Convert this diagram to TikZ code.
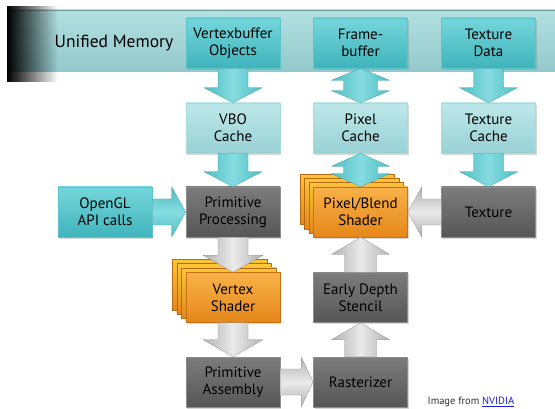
\documentclass[tikz,border=0pt]{standalone}
\usepackage{fontspec}
\setmainfont{PT Sans}
\usetikzlibrary{calc,fadings,shadows,backgrounds}
\definecolor{tealA}{HTML}{74D6DB}
\definecolor{tealB}{HTML}{40B4BB}
\definecolor{tealE}{HTML}{5CC4CA}
\definecolor{lightA}{HTML}{BEE8E9}
\definecolor{lightB}{HTML}{98D1D4}
\definecolor{lightE}{HTML}{A9DADC}
\definecolor{grayA}{HTML}{7C7C7C}
\definecolor{grayB}{HTML}{565656}
\definecolor{grayE}{HTML}{8C8C8C}
\definecolor{orA}{HTML}{F8B248}
\definecolor{orB}{HTML}{E5871A}
\definecolor{orE}{HTML}{B86A12}
\definecolor{bandA}{HTML}{B2E0E1}
\definecolor{bandB}{HTML}{93C9CB}
\definecolor{arrT}{HTML}{86DCE0}
\definecolor{arrTe}{HTML}{4DBEC5}
\definecolor{arrG}{HTML}{EAEAEA}
\definecolor{arrGe}{HTML}{B2B2B2}
\definecolor{linkblue}{HTML}{1A1AE0}
\newcommand\ArrV[6]{%
  \path[#1] let \p1=(#2), \p2=(#3), \n1={sign(\y2-\y1)} in
  ({\x1-#4},{\y1}) -- ({\x1-#4},{\y2-(\n1)*#6}) -- ({\x1-#5},{\y2-(\n1)*#6}) --
  ({\x1},{\y2}) -- ({\x1+#5},{\y2-(\n1)*#6}) -- ({\x1+#4},{\y2-(\n1)*#6}) --
  ({\x1+#4},{\y1}) -- cycle;}
\newcommand\ArrVV[6]{%
  \path[#1] let \p1=(#2), \p2=(#3), \n1={sign(\y2-\y1)} in
  ({\x1},{\y1}) -- ({\x1+#5},{\y1+(\n1)*#6}) -- ({\x1+#4},{\y1+(\n1)*#6}) --
  ({\x1+#4},{\y2-(\n1)*#6}) -- ({\x1+#5},{\y2-(\n1)*#6}) -- ({\x1},{\y2}) --
  ({\x1-#5},{\y2-(\n1)*#6}) -- ({\x1-#4},{\y2-(\n1)*#6}) --
  ({\x1-#4},{\y1+(\n1)*#6}) -- ({\x1-#5},{\y1+(\n1)*#6}) -- cycle;}
\newcommand\ArrH[6]{%
  \path[#1] let \p1=(#2), \p2=(#3), \n1={sign(\x2-\x1)} in
  ({\x1},{\y1-#4}) -- ({\x2-(\n1)*#6},{\y1-#4}) -- ({\x2-(\n1)*#6},{\y1-#5}) --
  ({\x2},{\y1}) -- ({\x2-(\n1)*#6},{\y1+#5}) -- ({\x2-(\n1)*#6},{\y1+#4}) --
  ({\x1},{\y1+#4}) -- cycle;}
\tikzset{
  box/.style={rectangle, minimum width=94pt, minimum height=50pt, inner sep=0pt,
    align=center, font=\fontsize{15}{16.8}\selectfont, text=black,
    line width=0.6pt,
    drop shadow={shadow xshift=1.2pt, shadow yshift=-1.6pt, opacity=0.3}},
  tealbox/.style={box, top color=tealA, bottom color=tealB, draw=tealE},
  lightbox/.style={box, top color=lightA, bottom color=lightB, draw=lightE},
  graybox/.style={box, top color=grayA, bottom color=grayB, draw=grayE},
  orbox/.style={box, top color=orA, bottom color=orB, draw=orE!70!orB},
  layerbox/.style={top color=orA!75!yellow, bottom color=orB, draw=orE, line width=0.6pt},
  tarrV/.style={left color=arrTe, right color=arrTe, middle color=arrT, draw=arrTe!85!black, line width=0.3pt},
  tarrH/.style={top color=arrTe, bottom color=arrTe, middle color=arrT, draw=arrTe!85!black, line width=0.3pt},
  garrV/.style={left color=arrGe, right color=arrGe, middle color=arrG, draw=arrGe!85!black, line width=0.3pt},
  garrH/.style={top color=arrGe, bottom color=arrGe, middle color=arrG, draw=arrGe!85!black, line width=0.3pt},
}
\begin{document}
\begin{tikzpicture}[x=1pt, y=-1pt]
\useasboundingbox (0,0) rectangle (555,409);
% memory band
\fill[top color=bandA, bottom color=bandB] (7,10) rectangle (555,72);
\draw[bandB!80!black, line width=0.5pt] (7,10.3) -- (555,10.3);
\fill[black, path fading=east] (7,6) rectangle (58,82);
\node[font=\fontsize{17.5}{20}\selectfont, text=black] (um) at (114,43) {Unified Memory};
% nodes
\node[tealbox]  (vbo)    at (233,43)    {Vertexbuffer\\Objects};
\node[tealbox]  (fb)     at (360.5,43)  {Frame-\\buffer};
\node[tealbox]  (tdata)  at (488.5,43)  {Texture\\Data};
\node[lightbox] (vcache) at (233,128)   {VBO\\Cache};
\node[lightbox] (pcache) at (360.5,128) {Pixel\\Cache};
\node[lightbox] (tcache) at (488.5,128) {Texture\\Cache};
\node[tealbox]  (opengl) at (105,212)   {OpenGL\\API calls};
\node[graybox]  (pproc)  at (233,212)   {Primitive\\Processing};
\node[orbox]    (pblend) at (360.5,212) {Pixel/Blend\\Shader};
\node[graybox]  (tex)    at (488.5,212) {Texture};
\node[orbox]    (vshad)  at (233,297.5) {Vertex\\Shader};
\node[graybox]  (early)  at (360.5,297.5) {Early Depth\\Stencil};
\node[graybox]  (pasm)   at (233,382)   {Primitive\\Assembly};
\node[graybox]  (rast)   at (360.5,382) {Rasterizer};
% stacked copies behind the shaders
\begin{scope}[on background layer]
\fill[white] (0,0) rectangle (555,409);
\foreach \k in {3,2,1} {
  \draw[layerbox] ($(pblend.north west)+(-4.4*\k,-4.2*\k)$) rectangle ($(pblend.south east)+(-4.4*\k,-4.2*\k)$);
  \draw[layerbox] ($(vshad.north west)+(-4.4*\k,-4.2*\k)$) rectangle ($(vshad.south east)+(-4.4*\k,-4.2*\k)$);
}
\end{scope}
% teal arrows
\ArrV{tarrV}{vbo.south}{vcache.north}{15pt}{29pt}{15pt}
\ArrVV{tarrV}{fb.south}{pcache.north}{17pt}{29pt}{12pt}
\ArrV{tarrV}{tdata.south}{tcache.north}{15pt}{29pt}{15pt}
\ArrV{tarrV}{vcache.south}{pproc.north}{15pt}{29pt}{15pt}
\ArrVV{tarrV}{pcache.south}{pblend.north}{17pt}{29pt}{13pt}
\ArrV{tarrV}{tcache.south}{tex.north}{15pt}{29pt}{15pt}
\ArrH{tarrH}{opengl.east}{pproc.west}{13pt}{25pt}{14pt}
% gray arrows
\ArrV{garrV}{pproc.south}{vshad.north}{15pt}{30pt}{17pt}
\ArrV{garrV}{vshad.south}{pasm.north}{15pt}{30pt}{17pt}
\ArrH{garrH}{pasm.east}{rast.west}{13pt}{25pt}{12pt}
\ArrV{garrV}{rast.north}{early.south}{16pt}{29pt}{17pt}
\ArrV{garrV}{early.north}{pblend.south}{16pt}{29pt}{17pt}
\ArrH{garrH}{tex.west}{pblend.east}{13pt}{25pt}{14pt}
% credit
\node[font=\fontsize{10.5}{12}\selectfont, text=black!80, inner sep=0pt] (credit) at (471,402)
  {Image from {\color{linkblue}\underline{NVIDIA}}};
\end{tikzpicture}
\end{document}
